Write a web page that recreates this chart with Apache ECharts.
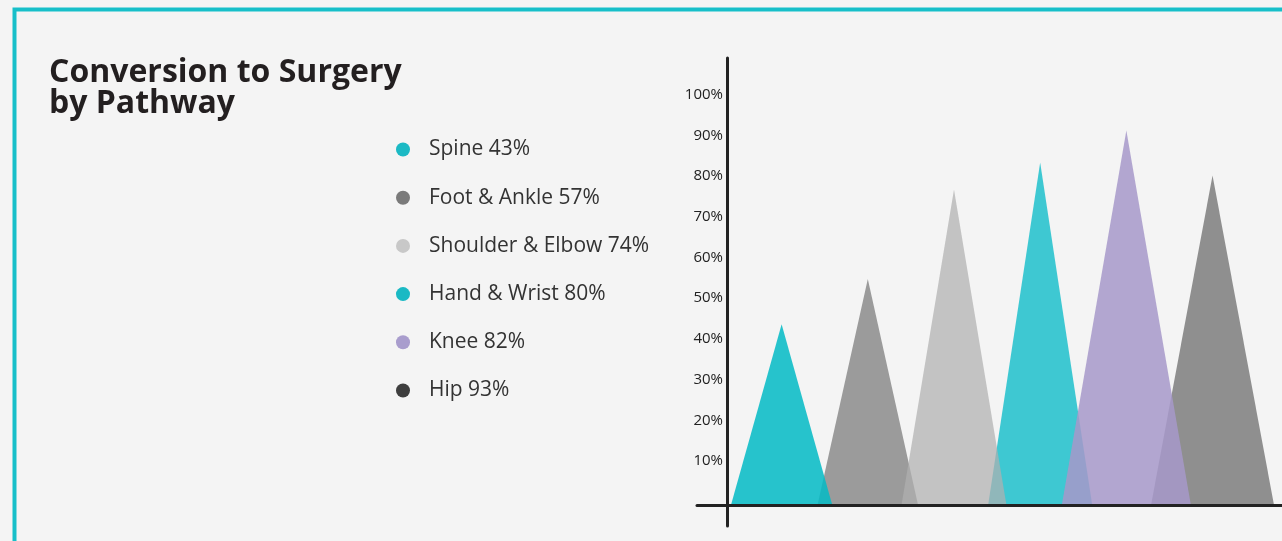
<!DOCTYPE html>
<html>
<head>
<meta charset="utf-8">
<style>
  html, body { margin: 0; padding: 0; background: #f4f4f4; }
  #chart { width: 1282px; height: 541px; }
</style>
<script src="https://cdn.jsdelivr.net/npm/echarts@6/dist/echarts.min.js"></script>
</head>
<body>
<div id="chart"></div>
<script>
// ---- data ----
const categories = ['Spine', 'Foot & Ankle', 'Shoulder & Elbow', 'Hand & Wrist', 'Knee', 'Hip'];
const legendPercents = [43, 57, 74, 80, 82, 93];
const peakValues = [44.6, 55.7, 77.7, 84.3, 92.2, 81.1];
const yTickValues = [10, 20, 30, 40, 50, 60, 70, 80, 90, 100];

// ---- styles ----
const legendColors = ['#1bb9c4', '#7a7a7a', '#c8c8c8', '#1ab9c4', '#a99dcd', '#3e3e3e'];
const triangleStyles = [
  { fill: '#03bac5', opacity: 0.86, width: 1.18, z: 4 },
  { fill: '#9b9b9b', opacity: 1.0,  width: 1.17, z: 2 },
  { fill: '#b0b0b0', opacity: 0.72, width: 1.22, z: 4 },
  { fill: '#3ec8d2', opacity: 1.0,  width: 1.21, z: 2 },
  { fill: '#a799c9', opacity: 0.86, width: 1.50, z: 4 },
  { fill: '#8f8f8f', opacity: 1.0,  width: 1.43, z: 2 }
];
const X_OFFSET = 0.634;

const chart = echarts.init(document.getElementById('chart'), null, { renderer: 'canvas' });

const series = categories.map((name, i) => ({
  type: 'custom',
  name: name,
  z: triangleStyles[i].z,
  itemStyle: { color: legendColors[i] },
  data: [[i, peakValues[i]]],
  renderItem: function (params, api) {
    const st = triangleStyles[i];
    const x = api.value(0) + X_OFFSET;
    const top = api.coord([x, api.value(1)]);
    const base = api.coord([x, 0]);
    const hw = api.size([st.width, 0])[0] / 2;
    return {
      type: 'polygon',
      shape: { points: [[base[0] - hw, base[1]], [top[0], top[1]], [base[0] + hw, base[1]]] },
      style: { fill: st.fill, opacity: st.opacity }
    };
  }
}));

const option = {
  backgroundColor: '#f4f4f4',
  animation: false,
  title: {
    text: 'Conversion to Surgery\nby Pathway',
    left: 49,
    top: 57,
    padding: 0,
    textStyle: {
      fontFamily: 'Open Sans',
      fontWeight: 'bold',
      fontSize: 32,
      lineHeight: 31,
      color: '#231f20'
    }
  },
  legend: {
    orient: 'vertical',
    left: 396,
    top: 139,
    padding: 0,
    icon: 'circle',
    itemWidth: 14,
    itemHeight: 14,
    itemGap: 27.2,
    selectedMode: false,
    data: categories.map((n, i) => ({ name: n, itemStyle: { color: legendColors[i] } })),
    formatter: function (name) {
      return name + ' ' + legendPercents[categories.indexOf(name)] + '%';
    },
    textStyle: {
      fontFamily: 'Open Sans',
      fontSize: 21,
      color: '#333333',
      padding: [0, 0, 0, 14]
    }
  },
  graphic: [{
    type: 'rect',
    left: 12,
    top: 7,
    shape: { width: 1320, height: 600 },
    style: { fill: 'none', stroke: '#17bfc9', lineWidth: 4 },
    z: 100
  }],
  grid: {
    left: 697,
    right: 0,
    top: 58,
    bottom: 15,
    containLabel: false
  },
  xAxis: {
    type: 'value',
    min: -0.348,
    max: 6.44,
    z: 10,
    axisLine: { show: true, onZero: true, lineStyle: { color: '#222222', width: 3 } },
    axisTick: { show: false },
    axisLabel: { show: false },
    splitLine: { show: false }
  },
  yAxis: {
    type: 'value',
    min: -5,
    max: 110,
    interval: 5,
    z: 10,
    axisLine: { show: true, onZero: true, lineStyle: { color: '#222222', width: 3 } },
    axisTick: { show: false },
    splitLine: { show: false },
    axisLabel: {
      show: true,
      margin: -26,
      fontFamily: 'Open Sans',
      fontSize: 15,
      color: '#222222',
      verticalAlign: 'bottom',
      lineHeight: 8,
      formatter: function (v) {
        return yTickValues.indexOf(v) >= 0 ? v + '%' : '';
      }
    }
  },
  series: series
};

chart.setOption(option);
</script>
</body>
</html>
